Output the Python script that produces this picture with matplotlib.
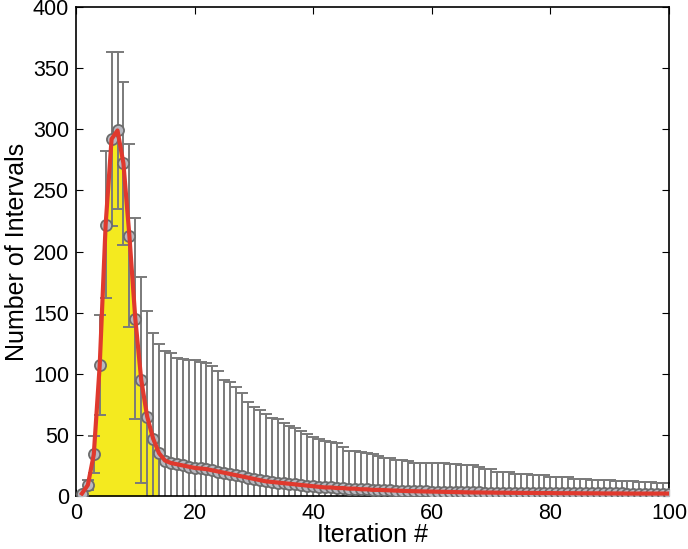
import matplotlib
matplotlib.use("Agg")
import matplotlib.pyplot as plt
import numpy as np

plt.rcParams['font.family'] = ['Liberation Sans', 'DejaVu Sans']

# iteration number
iteration = list(range(1, 101))

# mean number of intervals per iteration
mean_intervals = [
    2, 9, 34, 107, 222, 292, 299, 272, 213, 145,
    95, 65, 47, 35, 29, 27, 26, 25, 24, 23,
    22.5, 22, 21, 20, 19, 18, 17, 16, 15, 14,
    13, 12, 11.5, 11, 10.5, 10, 9.5, 9, 8.5, 8,
    7.5, 7, 7, 6.5, 6.5, 6, 6, 5.5, 5.5, 5,
    5, 4.8, 4.6, 4.4, 4.2, 4, 3.9, 3.8, 3.7, 3.6,
    3.5, 3.4, 3.3, 3.2, 3.1, 3.0, 2.9, 2.9, 2.8, 2.8,
    2.7, 2.7, 2.6, 2.6, 2.5, 2.5, 2.5, 2.4, 2.4, 2.4,
    2.3, 2.3, 2.3, 2.3, 2.2, 2.2, 2.2, 2.2, 2.1, 2.1,
    2.1, 2.1, 2.0, 2.0, 2.0, 2.0, 2.0, 2.0, 2.0, 2.0,
]

# standard deviation (error bar half length)
std_intervals = [
    1, 4, 15, 41, 60, 71, 64, 67, 75, 82,
    84, 86, 86, 89, 90, 90, 87, 87, 87, 88,
    87.5, 87, 85, 82, 76, 75, 72, 68, 62, 59,
    57, 55, 52.5, 52, 49.5, 47, 46, 44, 42.5, 40,
    39, 38, 37, 36.5, 33.5, 31, 31, 30.5, 29.5, 29,
    28, 26.2, 26.4, 25.1, 25.3, 24.6, 23.1, 23.2, 23.3, 23.4,
    23.5, 23.6, 22.7, 22.8, 21.9, 22, 22.1, 21.1, 19.2, 19.2,
    17.3, 17.3, 17.4, 15.4, 15.5, 15.5, 14.5, 14.6, 14.6, 13.1,
    13.2, 13.2, 13.2, 11.7, 11.8, 11.8, 10.8, 10.8, 10.9, 10.9,
    9.9, 9.9, 10, 10, 9.5, 9.5, 9.5, 8.5, 8.5, 8.5,
]

# yellow shaded region covers the first iterations
shade_end = 14

fig = plt.figure(figsize=(6.88, 5.49), dpi=100)
ax = fig.add_axes([76/688, 53/549, 593/688, 489/549])

x = np.array(iteration)
m = np.array(mean_intervals)
s = np.array(std_intervals)

ax.fill_between(x[:shade_end], 0, m[:shade_end], color='#f4ea1f', lw=0, zorder=1)
ax.errorbar(x, m, yerr=s, fmt='none', ecolor='#7a7a7a', elinewidth=1.4,
            capsize=4, capthick=1.4, zorder=2)
ax.plot(x, m, 'o', ms=8, mfc='#b8b8c0', mec='#6c6c6c', mew=1.3, zorder=3)
ax.plot(x, m, '-', color='#e0392e', lw=3, zorder=4)

ax.set_xlim(0, 100)
ax.set_ylim(0, 400)
ax.set_xticks(range(0, 101, 20))
ax.set_yticks(range(0, 401, 50))
ax.tick_params(direction='in', top=True, right=True, length=5, labelsize=15.5, pad=5)
for sp in ax.spines.values():
    sp.set_linewidth(1.2)
ax.set_xlabel('Iteration #', fontsize=18, labelpad=-1)
ax.set_ylabel('Number of Intervals', fontsize=18, labelpad=3)

fig.savefig('out.png', dpi=100)
